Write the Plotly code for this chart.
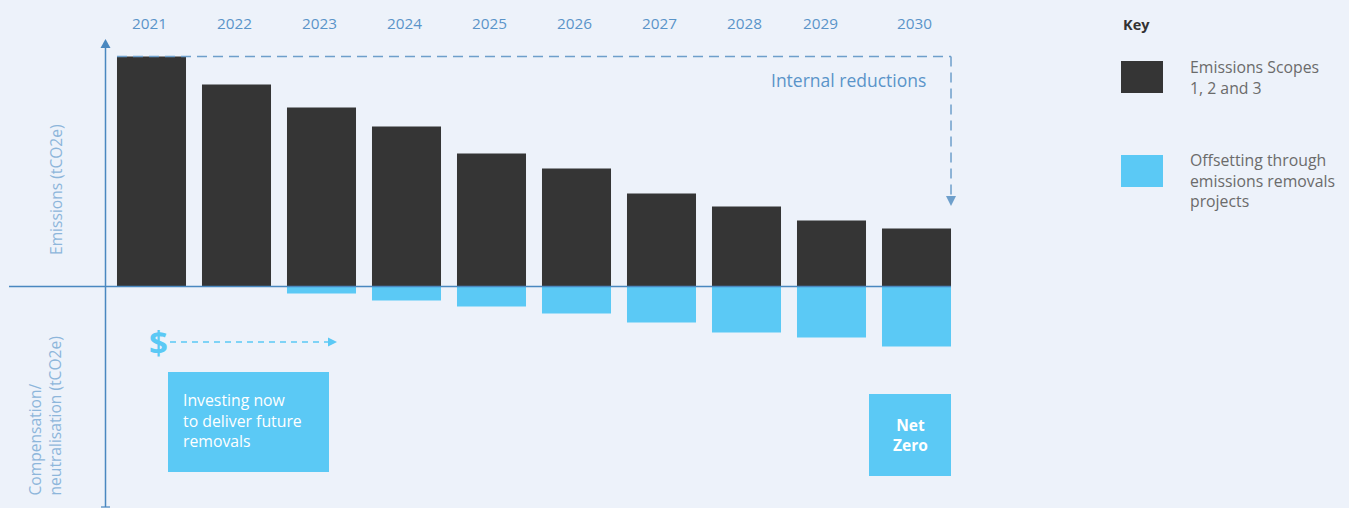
import plotly.graph_objects as go

# ---- data ----
years = [2021, 2022, 2023, 2024, 2025, 2026, 2027, 2028, 2029, 2030]
emissions = [230, 202, 179, 160, 133, 118, 93, 80, 66, 58]
offsets = [0, 0, -7, -14, -20, -27, -36, -46, -51, -60]
year_labels = [str(y) for y in years]
legend_items = ["Emissions Scopes<br>1, 2 and 3", "Offsetting through<br>emissions removals<br>projects"]

# ---- style ----
W, H = 1349, 508
BG = "#EDF2FA"
DARK = "#353535"
BLUE = "#5BC9F5"
AXIS = "#4A88C0"
DASH = "#6E9FCB"
LABEL = "#5A94C9"
TITLE = "#8DB6DB"
FONT = "Open Sans"
TXT_W = 400

# pixel helpers (paper coords)
def X(p):
    return p / W

def Y(p):
    return 1 - p / H

ZERO_PX = 286.5
X0_PX = 151.5
STEP_PX = 85.0

x_range = [years[0] - X0_PX / STEP_PX, years[0] + (W - X0_PX) / STEP_PX]
y_range = [-(H - ZERO_PX), ZERO_PX]

fig = go.Figure()
fig.add_trace(go.Bar(x=years, y=emissions, width=0.812, marker=dict(color=DARK, line=dict(width=0)),
                     name="Emissions", showlegend=False, hoverinfo="skip"))
fig.add_trace(go.Bar(x=years, y=offsets, width=0.812, marker=dict(color=BLUE, line=dict(width=0)),
                     name="Offsetting", showlegend=False, hoverinfo="skip"))

shapes = []
# horizontal zero line
shapes.append(dict(type="line", xref="paper", yref="y", x0=X(9), x1=X(951), y0=0, y1=0,
                   line=dict(color=AXIS, width=1.5), layer="above"))
# vertical axis
shapes.append(dict(type="line", xref="paper", yref="paper", x0=X(105.5), x1=X(105.5), y0=Y(45), y1=Y(507),
                   line=dict(color=AXIS, width=1.5)))
shapes.append(dict(type="line", xref="paper", yref="paper", x0=X(101), x1=X(110), y0=Y(507), y1=Y(507),
                   line=dict(color=AXIS, width=1.2)))
shapes.append(dict(type="path", xref="paper", yref="paper",
                   path=f"M {X(105.5)},{Y(39)} L {X(100.5)},{Y(48)} L {X(110.5)},{Y(48)} Z",
                   fillcolor=AXIS, line=dict(width=0)))
# dashed "internal reductions" line
x_right = years[-1] + 0.406
x_left = years[0] - 0.406
shapes.append(dict(type="line", xref="x", yref="y", x0=x_left, x1=x_right, y0=emissions[0], y1=emissions[0],
                   line=dict(color=DASH, width=1.5, dash="10px,6px")))
shapes.append(dict(type="line", xref="x", yref="y", x0=x_right, x1=x_right, y0=emissions[0], y1=ZERO_PX - 197,
                   line=dict(color=DASH, width=1.5, dash="10px,6px")))
shapes.append(dict(type="path", xref="paper", yref="paper",
                   path=f"M {X(951)},{Y(206)} L {X(946)},{Y(196)} L {X(956)},{Y(196)} Z",
                   fillcolor=DASH, line=dict(width=0)))
# investing dashed arrow
shapes.append(dict(type="line", xref="paper", yref="paper", x0=X(170), x1=X(330), y0=Y(342), y1=Y(342),
                   line=dict(color=BLUE, width=1.5, dash="6px,5px")))
shapes.append(dict(type="path", xref="paper", yref="paper",
                   path=f"M {X(337)},{Y(342)} L {X(328)},{Y(337.5)} L {X(328)},{Y(346.5)} Z",
                   fillcolor=BLUE, line=dict(width=0)))
# boxes
shapes.append(dict(type="rect", xref="paper", yref="paper", x0=X(168), x1=X(329), y0=Y(372), y1=Y(472),
                   fillcolor=BLUE, line=dict(width=0)))
shapes.append(dict(type="rect", xref="paper", yref="paper", x0=X(869), x1=X(951), y0=Y(394), y1=Y(476),
                   fillcolor=BLUE, line=dict(width=0)))
# legend swatches
shapes.append(dict(type="rect", xref="paper", yref="paper", x0=X(1121), x1=X(1163), y0=Y(61), y1=Y(93),
                   fillcolor=DARK, line=dict(width=0)))
shapes.append(dict(type="rect", xref="paper", yref="paper", x0=X(1121), x1=X(1163), y0=Y(155), y1=Y(187),
                   fillcolor=BLUE, line=dict(width=0)))

annotations = []
label_shift = {2029: -11}
for yr, lab in zip(years, year_labels):
    annotations.append(dict(x=yr, y=Y(23), xref="x", yref="paper", text=lab, showarrow=False,
                            xshift=label_shift.get(yr, -2),
                            font=dict(family=FONT, size=15.3, color=LABEL, weight=TXT_W),
                            xanchor="center", yanchor="middle"))
annotations.append(dict(x=X(928), y=Y(80), xref="paper", yref="paper", text="Internal reductions",
                        showarrow=False, xanchor="right", yanchor="middle",
                        font=dict(family=FONT, size=17.5, color=LABEL, weight=TXT_W)))
annotations.append(dict(x=X(158), y=Y(342), xref="paper", yref="paper", text="<b>$</b>",
                        showarrow=False, xanchor="center", yanchor="middle",
                        font=dict(family=FONT, size=33, color=BLUE)))
annotations.append(dict(x=X(181), y=Y(420), xref="paper", yref="paper",
                        text="Investing now<br>to deliver future<br>removals", showarrow=False,
                        xanchor="left", yanchor="middle", align="left",
                        font=dict(family=FONT, size=15.8, color="#FFFFFF", weight=TXT_W)))
annotations.append(dict(x=X(910), y=Y(435), xref="paper", yref="paper", text="<b>Net<br>Zero</b>",
                        showarrow=False, xanchor="center", yanchor="middle", align="center",
                        font=dict(family=FONT, size=15.5, color="#FFFFFF")))
annotations.append(dict(x=X(1121), y=Y(24), xref="paper", yref="paper", text="<b>Key</b>",
                        showarrow=False, xanchor="left", yanchor="middle",
                        font=dict(family=FONT, size=14.5, color="#333333")))
annotations.append(dict(x=X(1188), y=Y(77.5), xref="paper", yref="paper", text=legend_items[0],
                        showarrow=False, xanchor="left", yanchor="middle", align="left",
                        font=dict(family=FONT, size=15.8, color="#6B6B6B", weight=TXT_W)))
annotations.append(dict(x=X(1188), y=Y(180.5), xref="paper", yref="paper", text=legend_items[1],
                        showarrow=False, xanchor="left", yanchor="middle", align="left",
                        font=dict(family=FONT, size=15.8, color="#6B6B6B", weight=TXT_W)))
annotations.append(dict(x=X(56), y=Y(190), xref="paper", yref="paper", text="Emissions (tCO2e)",
                        showarrow=False, textangle=-90, xanchor="center", yanchor="middle",
                        font=dict(family=FONT, size=15.6, color=TITLE, weight=TXT_W)))
annotations.append(dict(x=X(44), y=Y(416.5), xref="paper", yref="paper",
                        text="Compensation/<br>neutralisation (tCO2e)",
                        showarrow=False, textangle=-90, xanchor="center", yanchor="middle", align="left",
                        font=dict(family=FONT, size=15.6, color=TITLE, weight=TXT_W)))

fig.update_layout(
    width=W, height=H,
    margin=dict(l=0, r=0, t=0, b=0),
    paper_bgcolor=BG, plot_bgcolor=BG,
    barmode="overlay",
    xaxis=dict(range=x_range, visible=False, fixedrange=True),
    yaxis=dict(range=y_range, visible=False, fixedrange=True),
    shapes=shapes,
    annotations=annotations,
    showlegend=False,
    font=dict(family=FONT),
)

fig.write_html(
    "out.html",
    config={"displayModeBar": False},
    post_script="document.body.style.margin='0';document.body.style.overflow='hidden';"
                "document.documentElement.style.background='" + BG + "';",
)
